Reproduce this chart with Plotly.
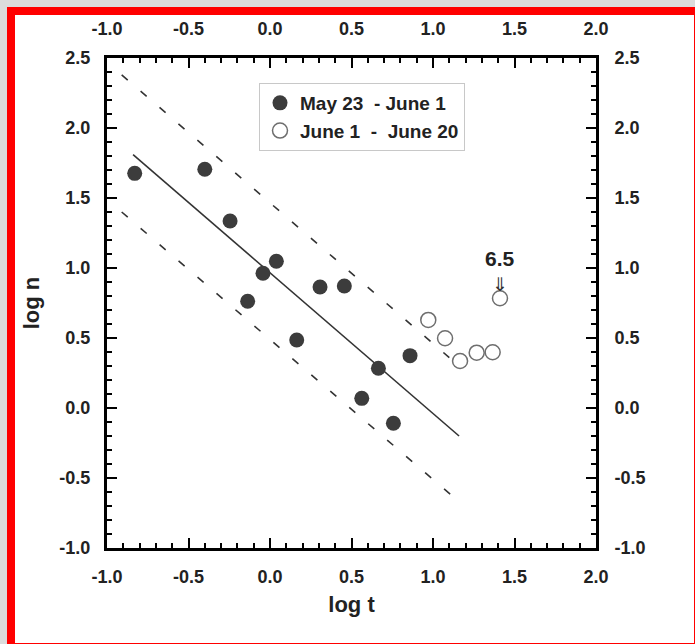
import plotly.graph_objects as go

# ---- data ----
early_t = [-0.83, -0.40, -0.245, -0.137, -0.043, 0.039, 0.164, 0.307, 0.456, 0.563, 0.665, 0.757, 0.859]
early_n = [1.676, 1.705, 1.336, 0.762, 0.962, 1.048, 0.486, 0.864, 0.871, 0.069, 0.284, -0.109, 0.374]
late_t = [0.971, 1.074, 1.166, 1.268, 1.366, 1.411]
late_n = [0.629, 0.498, 0.336, 0.395, 0.398, 0.784]
fit_t = [-0.84, 1.16]
fit_n = [1.81, -0.20]
upper_t = [-0.91, 1.10]
upper_n = [2.38, 0.36]
lower_t = [-0.91, 1.13]
lower_n = [1.40, -0.64]
tick_vals = [-1.0, -0.5, 0.0, 0.5, 1.0, 1.5, 2.0, 2.5]
tick_text = ["-1.0", "-0.5", "0.0", "0.5", "1.0", "1.5", "2.0", "2.5"]
legend_names = ["May 23  - June 1", "June 1  -  June 20"]

FONT = "Liberation Sans Narrow, Arial Narrow, Liberation Sans, Arial, sans-serif"
TXT = "#222222"

W, H = 695, 644
L, R, T, B = 107, 596, 58, 548


def fx(px):
    return (px - L) / (R - L)


def fy(py):
    return (B - py) / (B - T)


fig = go.Figure()

fig.add_trace(go.Scatter(x=upper_t, y=upper_n, mode="lines", showlegend=False,
                         line=dict(color="#333333", width=1.6, dash="8px,17px")))
fig.add_trace(go.Scatter(x=lower_t, y=lower_n, mode="lines", showlegend=False,
                         line=dict(color="#333333", width=1.6, dash="8px,17px")))
fig.add_trace(go.Scatter(x=fit_t, y=fit_n, mode="lines", showlegend=False,
                         line=dict(color="#333333", width=1.6)))
fig.add_trace(go.Scatter(x=early_t, y=early_n, mode="markers", name=legend_names[0],
                         marker=dict(size=15, color="#3c3c3c", line=dict(width=0))))
fig.add_trace(go.Scatter(x=late_t, y=late_n, mode="markers", name=legend_names[1],
                         marker=dict(size=15, color="white", line=dict(width=1.5, color="#6e6e6e"))))
# invisible trace for top / right axes
fig.add_trace(go.Scatter(x=[None], y=[None], xaxis="x2", yaxis="y2", showlegend=False))

axis_common = dict(
    tickvals=tick_vals, ticktext=tick_text,
    ticks="inside", ticklen=10, tickwidth=2, tickcolor="black",
    minor=dict(ticks="inside", ticklen=5, tickwidth=2, dtick=0.1, tickcolor="black", showgrid=False),
    showline=True, linecolor="black", linewidth=3,
    showgrid=False, zeroline=False,
    tickfont=dict(family=FONT, size=18, color=TXT, weight="bold"),
)

xa = dict(axis_common)
xa.update(range=[-1.0, 2.0], tickvals=tick_vals[:-1], ticktext=tick_text[:-1],
          ticklabelstandoff=10,
          title=dict(text="log t", font=dict(family=FONT, size=22, color=TXT, weight="bold"), standoff=12))
xa2 = dict(axis_common)
xa2.update(range=[-1.0, 2.0], tickvals=tick_vals[:-1], ticktext=tick_text[:-1],
           overlaying="x", side="top", ticklabelstandoff=13)
ya = dict(axis_common)
ya.update(range=[-1.0, 2.5], ticklabelstandoff=10,
          title=dict(text="log n", font=dict(family=FONT, size=22, color=TXT, weight="bold"), standoff=14))
ya2 = dict(axis_common)
ya2.update(range=[-1.0, 2.5], overlaying="y", side="right", ticklabelstandoff=12)

fig.update_layout(
    width=W, height=H,
    margin=dict(l=L, r=W - R, t=T, b=H - B),
    paper_bgcolor="#dcdcdc", plot_bgcolor="rgba(0,0,0,0)",
    xaxis=xa, xaxis2=xa2, yaxis=ya, yaxis2=ya2,
    legend=dict(x=fx(259), y=fy(83), xanchor="left", yanchor="top",
                bgcolor="white", bordercolor="#c8c8c8", borderwidth=1,
                font=dict(family=FONT, size=19, color=TXT, weight="bold"),
                itemwidth=30, tracegroupgap=0),
    shapes=[
        dict(type="rect", xref="paper", yref="paper", layer="below",
             x0=fx(7), x1=fx(W), y0=fy(H), y1=fy(7), fillcolor="#ff0000", line=dict(width=0)),
        dict(type="rect", xref="paper", yref="paper", layer="below",
             x0=fx(15), x1=fx(694), y0=fy(643), y1=fy(15), fillcolor="white", line=dict(width=0)),
    ],
    annotations=[
        dict(x=1.41, y=1.07, xref="x", yref="y", text="6.5", showarrow=False,
             font=dict(family=FONT, size=21, color=TXT, weight="bold")),
        dict(x=1.41, y=0.885, xref="x", yref="y", text="\u21d3", showarrow=False,
             font=dict(family="DejaVu Sans", size=19, color="#333333")),
    ],
)

fig.write_html("out.html", config={"displayModeBar": False},
               post_script="document.body.style.margin='0';document.body.style.padding='0';"
                           "document.body.style.background='#dcdcdc';")
